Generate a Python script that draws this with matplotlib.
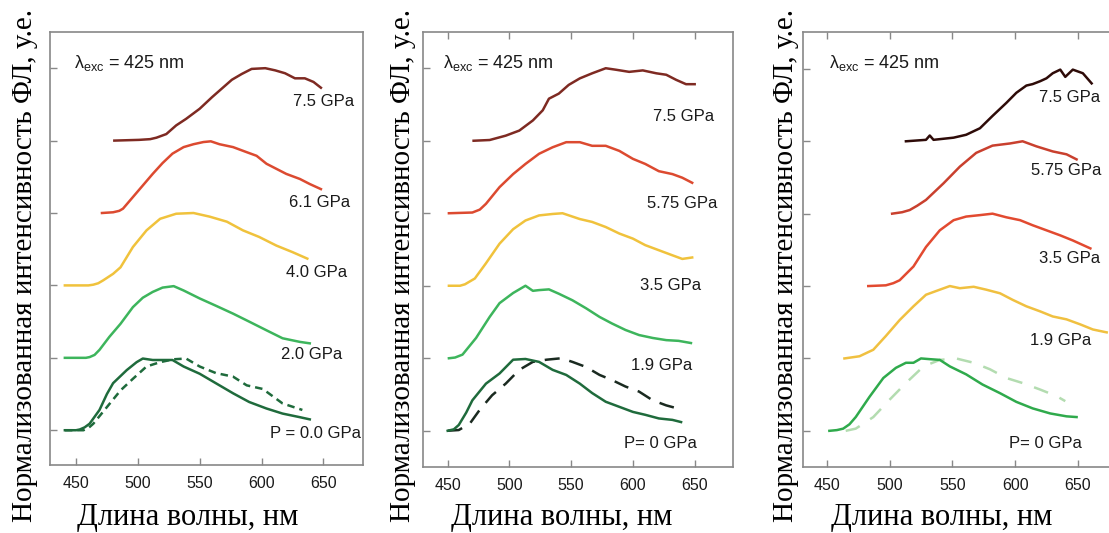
"""
Normalized PL spectra under pressure, three samples side by side
Output: out.png
"""

import matplotlib.pyplot as plt

plt.rcParams["font.family"] = ["Liberation Sans", "DejaVu Sans"]

# ---- panel 1 spectra (wavelength nm, normalized intensity) ----
a_75_wl = [481, 501, 510, 515, 523, 531, 539, 550, 560, 568, 576, 584, 592, 603, 611, 619, 627, 635, 642, 648]
a_75_i = [0.0, 0.01, 0.02, 0.04, 0.09, 0.21, 0.30, 0.44, 0.60, 0.72, 0.84, 0.92, 0.99, 1.0, 0.97, 0.93, 0.86, 0.86, 0.81, 0.73]

a_61_wl = [471, 480, 485, 488, 496, 504, 512, 520, 528, 537, 545, 553, 559, 566, 577, 588, 596, 604, 612, 620, 631, 639, 648]
a_61_i = [0.0, 0.01, 0.03, 0.06, 0.22, 0.38, 0.54, 0.69, 0.82, 0.91, 0.95, 0.98, 0.99, 0.95, 0.91, 0.84, 0.79, 0.68, 0.61, 0.54, 0.47, 0.40, 0.33]

a_40_wl = [441, 460, 464, 468, 472, 480, 486, 496, 507, 518, 531, 545, 558, 572, 585, 598, 612, 625, 637]
a_40_i = [0.0, 0.0, 0.01, 0.03, 0.07, 0.16, 0.25, 0.53, 0.76, 0.92, 0.99, 1.0, 0.95, 0.88, 0.76, 0.67, 0.55, 0.46, 0.37]

a_20_wl = [441, 458, 461, 465, 469, 477, 486, 496, 504, 512, 520, 529, 537, 550, 563, 577, 590, 604, 617, 631, 639]
a_20_i = [0.0, 0.0, 0.01, 0.04, 0.11, 0.29, 0.47, 0.70, 0.83, 0.91, 0.97, 0.99, 0.93, 0.82, 0.72, 0.61, 0.50, 0.38, 0.27, 0.22, 0.20]

a_00_wl = [441, 450, 453, 457, 461, 469, 475, 480, 491, 499, 504, 512, 520, 528, 537, 550, 563, 577, 590, 604, 617, 631, 639]
a_00_i = [0.0, 0.0, 0.01, 0.04, 0.09, 0.28, 0.50, 0.65, 0.83, 0.94, 0.99, 0.97, 0.97, 0.97, 0.88, 0.78, 0.65, 0.51, 0.39, 0.30, 0.23, 0.18, 0.15]

a_00d_wl = [441, 456, 460, 464, 475, 486, 496, 507, 518, 529, 539, 550, 563, 577, 588, 601, 617, 633]
a_00d_i = [0.0, 0.0, 0.03, 0.09, 0.32, 0.55, 0.71, 0.88, 0.94, 0.98, 0.99, 0.88, 0.79, 0.74, 0.62, 0.57, 0.37, 0.28]

# ---- panel 2 spectra ----
b_75_wl = [471, 484, 497, 508, 519, 527, 532, 540, 548, 557, 567, 578, 586, 597, 608, 619, 627, 635, 643, 650]
b_75_i = [0.0, 0.01, 0.07, 0.14, 0.28, 0.42, 0.58, 0.65, 0.77, 0.86, 0.93, 1.0, 0.98, 0.95, 0.97, 0.93, 0.91, 0.84, 0.78, 0.78]

b_575_wl = [451, 470, 476, 481, 492, 503, 513, 524, 535, 546, 557, 567, 578, 589, 600, 610, 621, 632, 640, 648]
b_575_i = [0.0, 0.01, 0.05, 0.13, 0.36, 0.54, 0.68, 0.82, 0.91, 0.98, 0.98, 0.93, 0.93, 0.86, 0.75, 0.68, 0.58, 0.54, 0.49, 0.42]

b_35_wl = [451, 460, 464, 472, 481, 492, 503, 513, 524, 535, 543, 557, 567, 578, 589, 600, 610, 621, 632, 640, 648]
b_35_i = [0.0, 0.0, 0.02, 0.10, 0.31, 0.58, 0.78, 0.90, 0.97, 0.99, 1.0, 0.92, 0.88, 0.81, 0.72, 0.65, 0.56, 0.49, 0.42, 0.37, 0.39]

b_19_wl = [451, 456, 462, 473, 484, 492, 503, 513, 519, 524, 532, 540, 551, 562, 573, 583, 594, 605, 616, 627, 637, 647]
b_19_i = [0.0, 0.01, 0.05, 0.28, 0.57, 0.76, 0.90, 1.0, 0.93, 0.94, 0.95, 0.89, 0.80, 0.69, 0.57, 0.48, 0.39, 0.32, 0.28, 0.25, 0.24, 0.21]

b_00_wl = [450, 455, 459, 465, 470, 481, 492, 503, 513, 524, 535, 546, 557, 567, 578, 589, 600, 610, 621, 632, 639]
b_00_i = [0.0, 0.02, 0.08, 0.25, 0.42, 0.65, 0.79, 0.98, 0.99, 0.95, 0.84, 0.77, 0.65, 0.52, 0.40, 0.33, 0.26, 0.22, 0.17, 0.15, 0.12]

b_00d_wl = [450, 459, 468, 476, 486, 497, 508, 519, 530, 542, 551, 562, 573, 583, 594, 605, 616, 627, 640]
b_00d_i = [0.0, 0.01, 0.10, 0.29, 0.49, 0.65, 0.84, 0.95, 0.98, 1.0, 0.95, 0.88, 0.77, 0.70, 0.61, 0.54, 0.42, 0.35, 0.29]

# ---- panel 3 spectra ----
c_75_wl = [513, 529, 532, 535, 551, 561, 572, 582, 593, 601, 609, 614, 620, 625, 630, 636, 640, 646, 654, 661]
c_75_i = [0.0, 0.02, 0.08, 0.02, 0.05, 0.09, 0.18, 0.35, 0.53, 0.67, 0.77, 0.79, 0.83, 0.87, 0.94, 0.99, 0.89, 0.99, 0.94, 0.80]

c_575_wl = [502, 510, 516, 522, 529, 543, 556, 569, 582, 596, 606, 617, 630, 641, 649]
c_575_i = [0.0, 0.02, 0.05, 0.11, 0.19, 0.42, 0.65, 0.84, 0.94, 0.97, 1.0, 0.93, 0.86, 0.82, 0.75]

c_35_wl = [483, 497, 503, 508, 519, 529, 540, 551, 561, 572, 582, 593, 604, 614, 625, 636, 646, 660]
c_35_i = [0.0, 0.01, 0.04, 0.08, 0.27, 0.54, 0.77, 0.91, 0.96, 0.98, 1.0, 0.95, 0.91, 0.84, 0.77, 0.70, 0.63, 0.52]

c_19_wl = [464, 476, 487, 497, 508, 519, 529, 540, 548, 556, 567, 577, 588, 598, 609, 620, 630, 641, 652, 662, 673]
c_19_i = [0.0, 0.03, 0.12, 0.31, 0.53, 0.72, 0.88, 0.95, 1.0, 0.97, 0.99, 0.95, 0.90, 0.81, 0.72, 0.65, 0.58, 0.54, 0.47, 0.40, 0.36]

c_00_wl = [452, 458, 463, 468, 473, 484, 495, 505, 513, 519, 525, 532, 540, 548, 561, 574, 588, 601, 614, 628, 641, 649]
c_00_i = [0.0, 0.01, 0.03, 0.09, 0.19, 0.47, 0.73, 0.87, 0.94, 0.94, 1.0, 0.99, 0.98, 0.89, 0.78, 0.64, 0.52, 0.40, 0.31, 0.24, 0.20, 0.19]

c_00d_wl = [465, 473, 487, 500, 513, 527, 540, 553, 567, 580, 593, 606, 620, 633, 640]
c_00d_i = [0.0, 0.03, 0.19, 0.43, 0.66, 0.89, 0.98, 1.0, 0.94, 0.85, 0.73, 0.66, 0.57, 0.48, 0.41]

# curve lists per panel: (wavelength, intensity, vertical offset, color, linestyle)
panel1 = [
    (a_00d_wl, a_00d_i, 0, "#1f6b3c", (0, (3, 2))),
    (a_00_wl, a_00_i, 0, "#1f6b3c", "-"),
    (a_20_wl, a_20_i, 1, "#3db55c", "-"),
    (a_40_wl, a_40_i, 2, "#f0c23c", "-"),
    (a_61_wl, a_61_i, 3, "#dc4a30", "-"),
    (a_75_wl, a_75_i, 4, "#7e2a22", "-"),
]
panel2 = [
    (b_00d_wl, b_00d_i, 0, "#1a2a20", (0, (6, 4))),
    (b_00_wl, b_00_i, 0, "#1f6b3c", "-"),
    (b_19_wl, b_19_i, 1, "#3db55c", "-"),
    (b_35_wl, b_35_i, 2, "#f0c23c", "-"),
    (b_575_wl, b_575_i, 3, "#dc4a30", "-"),
    (b_75_wl, b_75_i, 4, "#7e2a22", "-"),
]
panel3 = [
    (c_00d_wl, c_00d_i, 0, "#b3dcb0", (0, (6, 5))),
    (c_00_wl, c_00_i, 0, "#2faa4c", "-"),
    (c_19_wl, c_19_i, 1, "#f0c040", "-"),
    (c_35_wl, c_35_i, 2, "#e24a30", "-"),
    (c_575_wl, c_575_i, 3, "#c9402e", "-"),
    (c_75_wl, c_75_i, 4, "#2e0b08", "-"),
]

# pressure labels: (text, x right edge in nm, y)
labels1 = [("7.5 GPa", 675, 4.54), ("6.1 GPa", 672, 3.14), ("4.0 GPa", 669, 2.18),
           ("2.0 GPa", 665, 1.05), ("P = 0.0 GPa", 680, -0.05)]
labels2 = [("7.5 GPa", 666, 4.33), ("5.75 GPa", 668, 3.13), ("3.5 GPa", 655, 2.0),
           ("1.9 GPa", 648, 0.9), ("P= 0 GPa", 652, -0.17)]
labels3 = [("7.5 GPa", 668, 4.6), ("5.75 GPa", 669, 3.59), ("3.5 GPa", 668, 2.38),
           ("1.9 GPa", 661, 1.25), ("P= 0 GPa", 653, -0.17)]

xticks = [450, 500, 550, 600, 650]
yticks = [0, 1, 2, 3, 4, 5]

fig = plt.figure(figsize=(11.09, 5.33), dpi=100)

# axes boxes in figure fractions
boxes = [
    [0.0451, 0.1276, 0.2822, 0.8124],
    [0.3814, 0.1238, 0.2795, 0.8162],
    [0.7241, 0.1238, 0.2840, 0.8162],
]
xlims = [(429, 682), (430, 681), (431, 682)]
ylims = [(-0.48, 5.5), (-0.5, 5.5), (-0.5, 5.51)]
top_ticks = [False, True, True]
lam_x = [0.078, 0.063, 0.084]
panels = [panel1, panel2, panel3]
labels = [labels1, labels2, labels3]

for box, xl, yl, tt, lx, curves, labs in zip(boxes, xlims, ylims, top_ticks, lam_x, panels, labels):
    ax = fig.add_axes(box)
    for wl, inten, off, col, ls in curves:
        ax.plot(wl, [v + off for v in inten], color=col, linestyle=ls, linewidth=1.8)
    for txt, x, y in labs:
        ax.text(x, y, txt, ha="right", va="center", fontsize=12, color="#1a1a1a")
    ax.text(lx, 0.928, "λ$_{\\mathregular{exc}}$ = 425 nm", transform=ax.transAxes,
            ha="left", va="center", fontsize=13, color="#1a1a1a")
    ax.set_xlim(*xl)
    ax.set_ylim(*yl)
    ax.set_xticks(xticks)
    ax.set_yticks(yticks)
    ax.set_yticklabels([])
    ax.tick_params(axis="both", direction="in", length=5, width=1.0, color="#888888",
                   labelsize=11.5, labelcolor="#1a1a1a", pad=8)
    ax.tick_params(axis="x", top=tt)
    for s in ax.spines.values():
        s.set_color("#888888")
        s.set_linewidth(1.2)

# axis titles, serif like the rest of the report
ylab = "Нормализованная интенсивность ФЛ, у.е."
xlab = "Длина волны, нм"
for xc in [25, 403, 786]:
    fig.text(xc / 1109, 1 - 266 / 533, ylab, rotation=90, ha="center", va="center",
             family="Liberation Serif", fontsize=21)
for xc in [188, 562, 942]:
    fig.text(xc / 1109, 1 - 517 / 533, xlab, ha="center", va="center",
             family="Liberation Serif", fontsize=22)

plt.savefig("out.png", dpi=100)
